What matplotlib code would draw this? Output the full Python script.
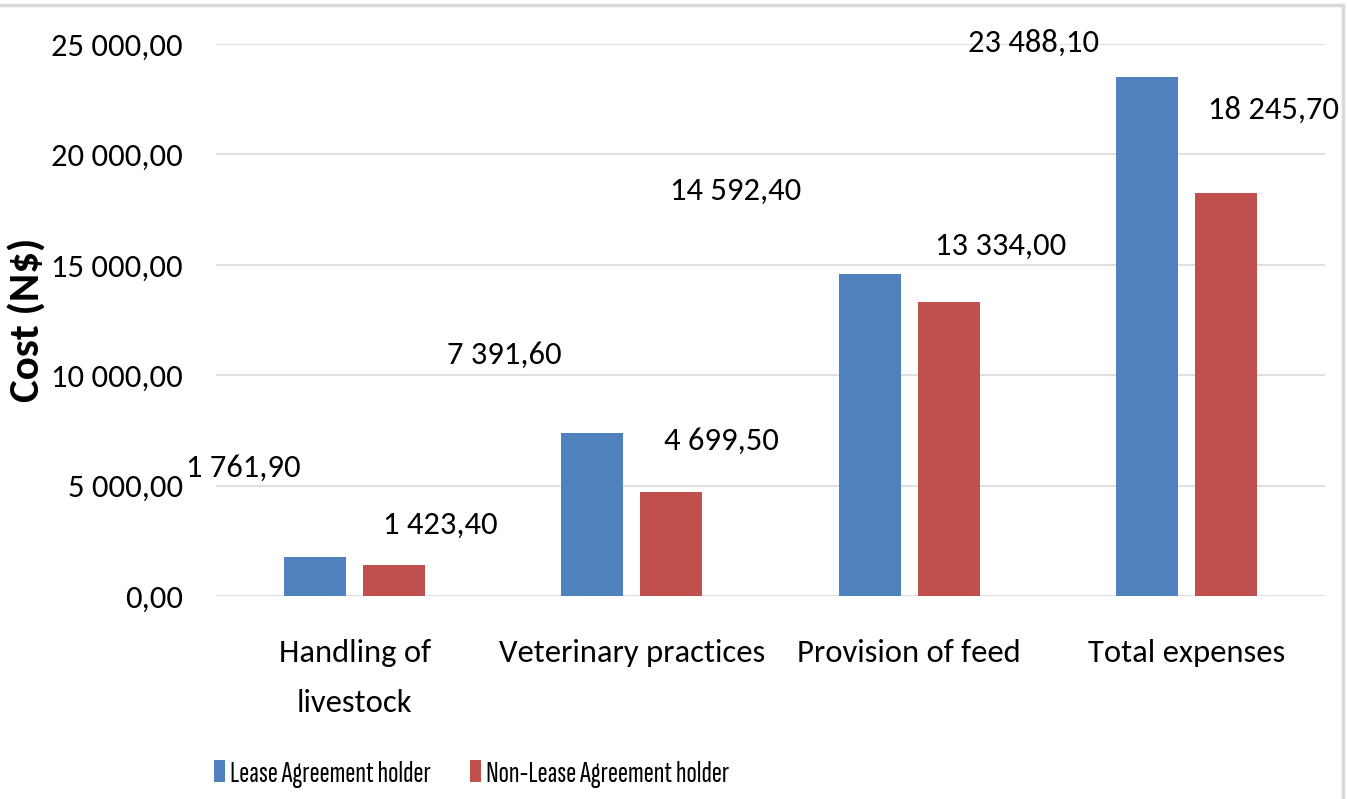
import matplotlib.pyplot as plt
import numpy as np
from matplotlib.patches import Rectangle
from matplotlib.ticker import FuncFormatter

plt.rcParams['font.family'] = ['Carlito', 'DejaVu Sans']

categories = ["Handling of\nlivestock", "Veterinary practices", "Provision of feed", "Total expenses"]
series_names = ["Lease Agreement holder", "Non-Lease Agreement holder"]
lease = [1761.90, 7391.60, 14592.40, 23488.10]
non_lease = [1423.40, 4699.50, 13334.00, 18245.70]
y_ticks = [0, 5000, 10000, 15000, 20000, 25000]

# manual label offsets (px, up positive) as positioned in the source chart
lease_offsets = [(-72, 89), (-88, 78), (-134, 83), (-113, 35)]
non_lease_offsets = [(46, 40), (50, 51), (52, 56), (48, 83)]

BLUE = "#4F81BD"
RED = "#C0504D"
FS = 23.5


def fmt(v, pos=None):
    s = f"{v:,.2f}"
    return s.replace(",", " ").replace(".", ",")


fig = plt.figure(figsize=(13.47, 7.99), dpi=100)
ax = fig.add_axes([0.1604, 0.2541, 0.8233, 0.6908])

x = np.arange(len(categories))
w = 0.224
gap = 0.061
b1 = ax.bar(x - (w + gap) / 2, lease, w, color=BLUE, label=series_names[0], zorder=3)
b2 = ax.bar(x + (w + gap) / 2, non_lease, w, color=RED, label=series_names[1], zorder=3)

px2pt = 0.72
for bars, vals, offs in [(b1, lease, lease_offsets), (b2, non_lease, non_lease_offsets)]:
    for bar, v, (dx, dy) in zip(bars, vals, offs):
        ax.annotate(fmt(v), (bar.get_x() + bar.get_width() / 2, v),
                    xytext=(dx * px2pt, dy * px2pt), textcoords="offset points",
                    ha="center", va="center", fontsize=FS, color="black",
                    annotation_clip=False)

ax.set_xlim(-0.5, len(categories) - 0.5)
ax.set_ylim(0, 25000)
ax.set_yticks(y_ticks)
ax.yaxis.set_major_formatter(FuncFormatter(fmt))
ax.set_xticks(x)
ax.set_xticklabels(categories, fontsize=FS, linespacing=1.95)
ax.tick_params(axis="y", length=0, pad=24, labelsize=FS)
ax.tick_params(axis="x", length=0, pad=31)
ax.grid(axis="y", color="#D9D9D9", lw=1.2, zorder=0)
for s in ax.spines.values():
    s.set_visible(False)

ax.set_ylabel("Cost (N$)", fontsize=31, weight="bold", labelpad=3)

LFS = 22
em = LFS * 100 / 72
fig.legend(handles=[b1, b2], loc="center", bbox_to_anchor=(0.3504, 0.031),
           ncol=2, frameon=False, handlelength=11 / em, handleheight=22 / em,
           handletextpad=5 / em, columnspacing=39 / em,
           prop={"family": ["Sofia Sans Extra Condensed", "Carlito"], "size": LFS})

# chart border (top and right edges visible in the crop)
fig.patches.append(Rectangle((-0.01, -0.01), 1.007, 1.004, transform=fig.transFigure,
                             fill=False, edgecolor="#D9D9D9", lw=2.5))

fig.savefig("out.png", dpi=100)
